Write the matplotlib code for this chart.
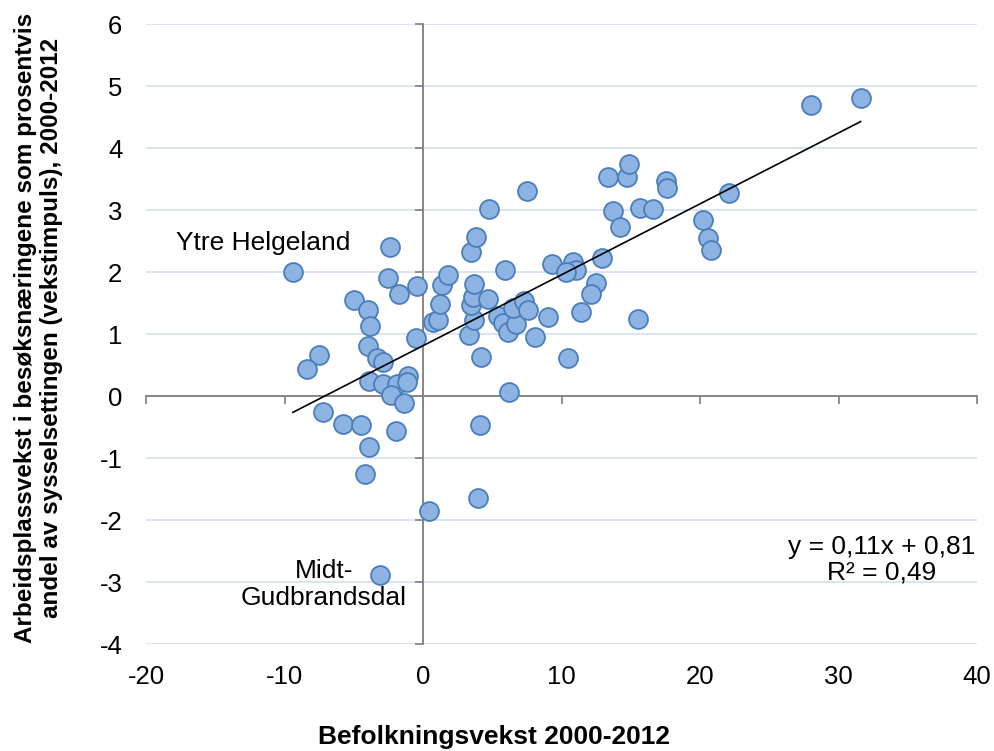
import numpy as np
import matplotlib
matplotlib.use("Agg")
import matplotlib.pyplot as plt

plt.rcParams["font.family"] = ["Liberation Sans", "DejaVu Sans"]

# Befolkningsvekst 2000-2012 (prosent) per region
befolkning = [
    -9.4, -2.4, -2.5, -1.7, -0.4, -5.0, -4.0, -3.8, -0.5, -4.0,
    -3.3, -2.9, -3.9, -2.9, -1.85, -1.06, -1.18, -2.3, -1.37, -7.5,
    -8.4, -7.2, -5.8, -4.5, -1.95, -3.9, -4.2, -3.1, 0.4, 4.0,
    4.1, 6.2, 4.2, 3.3, 3.7, 0.7, 1.1, 1.2, 1.4, 1.8,
    3.5, 3.6, 3.7, 4.7, 3.5, 3.8, 4.8, 7.5, 5.9, 5.4,
    5.75, 6.15, 6.75, 6.5, 7.3, 7.55, 8.1, 9.0, 10.5, 9.35,
    10.8, 11.05, 10.3, 12.95, 12.5, 12.15, 11.4, 15.55, 13.35, 14.7,
    14.9, 13.75, 14.2, 15.65, 16.6, 17.55, 17.6, 20.2, 20.6, 20.8,
    22.1, 28.0, 31.6,
]

# Arbeidsplassvekst i besøksnæringene (vekstimpuls)
vekstimpuls = [
    2.0, 2.41, 1.91, 1.65, 1.78, 1.55, 1.38, 1.13, 0.93, 0.80,
    0.62, 0.55, 0.24, 0.19, 0.19, 0.32, 0.23, 0.02, -0.11, 0.66,
    0.43, -0.25, -0.45, -0.46, -0.56, -0.82, -1.26, -2.89, -1.85, -1.65,
    -0.47, 0.06, 0.63, 0.99, 1.22, 1.20, 1.23, 1.49, 1.79, 1.95,
    1.47, 1.60, 1.80, 1.56, 2.33, 2.56, 3.02, 3.30, 2.03, 1.29,
    1.17, 1.03, 1.16, 1.42, 1.53, 1.38, 0.95, 1.28, 0.61, 2.13,
    2.16, 2.04, 2.00, 2.22, 1.82, 1.64, 1.36, 1.25, 3.54, 3.54,
    3.75, 2.99, 2.72, 3.03, 3.02, 3.47, 3.36, 2.84, 2.55, 2.35,
    3.28, 4.69, 4.80,
]

x_ticks = [-20, -10, 0, 10, 20, 30, 40]
y_ticks = [-4, -3, -2, -1, 0, 1, 2, 3, 4, 5, 6]

region_ytre = "Ytre Helgeland"
region_midt = "Midt-\nGudbrandsdal"

x_title = "Befolkningsvekst 2000-2012"
y_title = ("Arbeidsplassvekst i besøksnæringene som prosentvis\n"
           "andel av sysselsettingen (vekstimpuls), 2000-2012")

x = np.array(befolkning)
y = np.array(vekstimpuls)

AXIS_GREY = "#868686"
GRID = "#D9E2F1"
FILL = "#8DB3E2"
EDGE = "#4A7EBB"
FS = 19

fig = plt.figure(figsize=(9.94, 7.51), dpi=100)
ax = fig.add_axes([146 / 994, 1 - 644 / 751, (977 - 146) / 994, (644 - 24) / 751])

ax.set_xlim(x_ticks[0], x_ticks[-1])
ax.set_ylim(y_ticks[0], y_ticks[-1])
ax.set_xticks(x_ticks)
ax.set_yticks(y_ticks)
ax.set_xticklabels([str(t) for t in x_ticks])
ax.set_yticklabels([str(t) for t in y_ticks])
for s in ax.spines.values():
    s.set_visible(False)
ax.tick_params(axis="both", length=0, labelsize=FS - 0.5, colors="black")
ax.tick_params(axis="y", pad=17)
ax.tick_params(axis="x", pad=15)
ax.yaxis.grid(True, color=GRID, linewidth=1.3)
ax.xaxis.grid(False)
ax.set_axisbelow(True)

# Axis lines crossing at the origin, with outward tick marks
fx = (0 - x_ticks[0]) / (x_ticks[-1] - x_ticks[0])
fy = (0 - y_ticks[0]) / (y_ticks[-1] - y_ticks[0])
sx = ax.secondary_xaxis(fy)
sx.set_xticks(x_ticks)
sx.tick_params(axis="x", direction="out", length=6, width=1.3, color=AXIS_GREY,
               labelbottom=False, labeltop=False)
sy = ax.secondary_yaxis(fx)
sy.set_yticks(y_ticks)
sy.tick_params(axis="y", direction="out", length=6, width=1.3, color=AXIS_GREY,
               labelleft=False, labelright=False)
for sec in (sx, sy):
    for sp in sec.spines.values():
        sp.set_color(AXIS_GREY)
        sp.set_linewidth(1.4)
    sec.set_zorder(0.8)

ax.scatter(x, y, s=185, facecolor=FILL, edgecolor=EDGE, linewidth=1.3, zorder=3)

# Linear trend line over the data range
slope, intercept = np.polyfit(x, y, 1)
r2 = np.corrcoef(x, y)[0, 1] ** 2
xl = np.array([x.min(), x.max()])
ax.plot(xl, slope * xl + intercept, color="black", linewidth=1.2, zorder=4)

eq = f"y = {slope:.2f}x + {intercept:.2f}".replace(".", ",")
rr = f"R² = {r2:.2f}".replace(".", ",")
ax.text(33.1, -2.64, eq + "\n" + rr, ha="center", va="center",
        multialignment="center", fontsize=FS, linespacing=1.1, zorder=5)

ax.text(-5.25, 2.47, region_ytre, ha="right", va="center", fontsize=FS, zorder=5)
ax.text(-7.15, -3.04, region_midt, ha="center", va="center",
        multialignment="center", fontsize=FS, linespacing=1.15, zorder=5)

title_font = ["Liberation Sans Narrow", "Liberation Sans", "DejaVu Sans"]
fig.text(494.5 / 994, 1 - 737 / 751, x_title, ha="center", va="center",
         fontsize=19, fontweight="bold", family=title_font)
fig.text(38.5 / 994, 1 - 328 / 751, y_title, ha="center", va="center",
         rotation=90, multialignment="center", fontsize=17.5,
         fontweight="bold", family=title_font, linespacing=1.2)

fig.savefig("out.png", dpi=100)
